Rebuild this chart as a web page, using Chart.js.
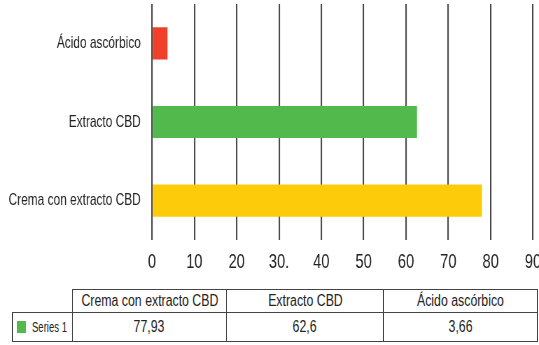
<!DOCTYPE html>
<html>
<head>
<meta charset="utf-8">
<script src="https://cdn.jsdelivr.net/npm/chart.js@4"></script>
<style>
	body { margin: 0; width: 539px; height: 345px; overflow: hidden; background: #fff; position: relative; }
	/* 좁은 글꼴 대신 캔버스를 가로로 줄여서 씀 */
	#myChart { position: absolute; left: 0; top: 0; transform: scaleX(0.7); transform-origin: 0 0; }
	table { position: absolute; left: 12px; top: 289px; width: 525px; border-collapse: collapse; font-family: 'Liberation Sans', Arial, sans-serif; color: #222; table-layout: fixed; }
	td { border: 1.5px solid #444; padding: 0; overflow: visible; }
	td .c { display: flex; justify-content: center; align-items: center; }
	td .c span { white-space: nowrap; display: inline-block; flex-shrink: 0; transform: scaleX(0.77); }
	tr.head td { height: 22px; font-size: 16px; }
	tr.row td { height: 28px; font-size: 16px; }
	td.empty { border-top: none; border-left: none; }
	td.leg .c { justify-content: flex-start; font-size: 14px; }
	td.leg .c span { transform: scaleX(0.68); transform-origin: 0 50%; }
	.sw { display: inline-block; flex-shrink: 0; width: 9px; height: 12px; background: #52b94d; margin: 0 6px 0 4px; }
</style>
</head>
<body>
<canvas id="myChart" width="800" height="285"></canvas>
<table id="tbl"></table>
<script>
	const categories = ["Crema con extracto CBD", "Extracto CBD", "Ácido ascórbico"];
	const seriesName = "Series 1";
	const values = [77.93, 62.6, 3.66];
	const valueLabels = ["77,93", "62,6", "3,66"];
	const tickLabels = ["0", "10", "20", "30.", "40", "50", "60", "70", "80", "90"];
	const barColors = ["#fdcb09", "#52b94d", "#f0402a"];

	const font = "'Liberation Sans', Arial, sans-serif";
	const sx = 0.7; // 캔버스 가로 축소 비율

	// 표 만들기
	let html = '<colgroup><col style="width:60px"><col style="width:154px"><col style="width:157px"><col style="width:154px"></colgroup>';
	html += '<tr class="head"><td class="empty"></td>';
	categories.forEach(c => { html += '<td><div class="c"><span>' + c + '</span></div></td>'; });
	html += '</tr><tr class="row"><td class="leg"><div class="c"><i class="sw"></i><span>' + seriesName + '</span></div></td>';
	valueLabels.forEach(v => { html += '<td><div class="c"><span>' + v + '</span></div></td>'; });
	html += '</tr>';
	document.getElementById('tbl').innerHTML = html;

	const ctx = document.getElementById('myChart').getContext('2d');
	const myChart = new Chart(ctx, {
		type: "bar",
		data: {
			labels: categories,
			datasets: [{
				label: seriesName,
				data: values,
				backgroundColor: barColors,
				borderWidth: 0,
				barPercentage: 0.8,
				categoryPercentage: 0.51
			}]
		},
		options: {
			indexAxis: 'y',
			responsive: false,
			animation: false,
			layout: { padding: { top: 4, right: 800 - 533 / sx, left: 0, bottom: 0 } },
			plugins: {
				legend: { display: false },
				tooltip: { enabled: false }
			},
			scales: {
				x: {
					min: 0,
					max: 90,
					afterFit: function(scale) {
						scale.height = 45;
						scale.paddingLeft = 0;
						scale.paddingRight = 0;
					},
					border: { display: false },
					grid: { color: '#4a4a4a', lineWidth: 2.1, tickLength: 0, drawTicks: false },
					ticks: {
						stepSize: 10,
						padding: 10,
						color: '#222',
						font: { family: font, size: 21 },
						callback: function(value, index) { return tickLabels[index]; }
					}
				},
				y: {
					reverse: true,
					afterFit: function(scale) {
						scale.width = 152 / sx;
						scale.paddingTop = 0;
						scale.paddingBottom = 0;
					},
					border: { display: false },
					grid: { display: false },
					ticks: {
						padding: 8,
						color: '#222',
						font: { family: font, size: 17 }
					}
				}
			}
		}
	});
</script>
</body>
</html>
